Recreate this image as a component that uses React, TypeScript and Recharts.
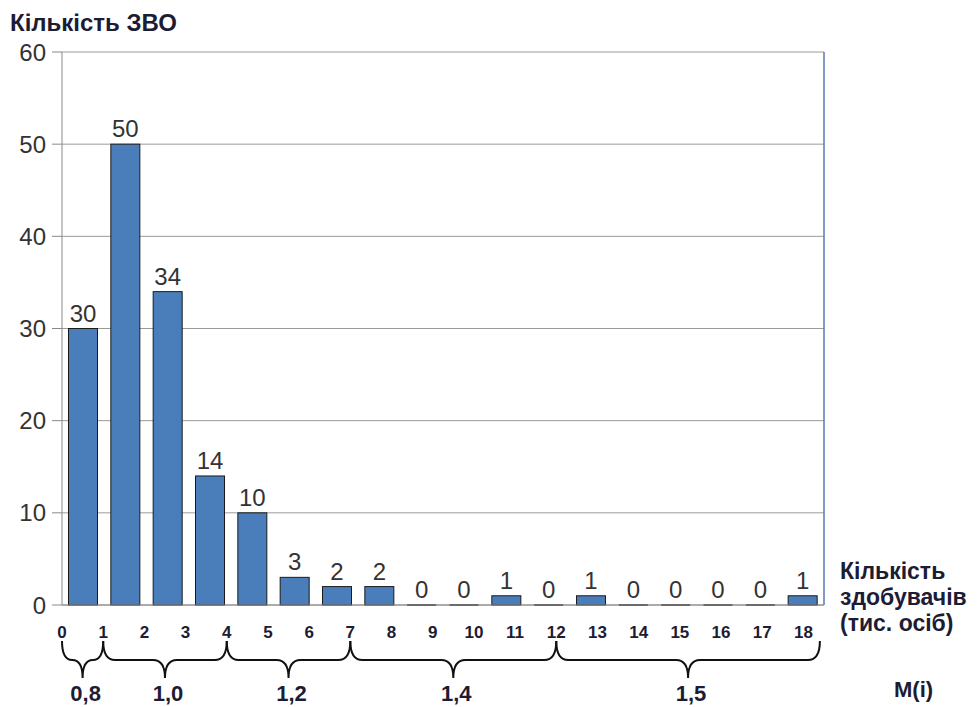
import React from 'react';
import {
  BarChart,
  Bar,
  XAxis,
  YAxis,
  CartesianGrid,
  LabelList,
  ReferenceArea,
  ReferenceLine
} from 'recharts';

// number of institutions per group of applicants
const categories = ['1', '2', '3', '4', '5', '6', '7', '8', '9', '10', '11', '12', '13', '14', '15', '16', '17', '18'];
const counts = [30, 50, 34, 14, 10, 3, 2, 2, 0, 0, 1, 0, 1, 0, 0, 0, 0, 1];
const xTicks = [0, 1, 2, 3, 4, 5, 6, 7, 8, 9, 10, 11, 12, 13, 14, 15, 16, 17, 18];
const yTicks = [0, 10, 20, 30, 40, 50, 60];

// brace groups under the axis: from, to, M(i)
const groupFrom = [0, 1, 4, 7, 12];
const groupTo = [1, 4, 7, 12, 18.4];
const groupLabels = ['0,8', '1,0', '1,2', '1,4', '1,5'];

const data = categories.map((c, i) => ({ name: c, value: counts[i] }));

const FONT = '"Liberation Sans", Arial, sans-serif';
const DARK = '#1c1c34';

// bar with thin line when value is zero
const BarShape = (props: any) => {
  const { x, y, width, height } = props;
  if (!height || height < 0.5) {
    return <line x1={x} x2={x + width} y1={y + (height || 0)} y2={y + (height || 0)} stroke="#222" strokeWidth={1.5} />;
  }
  return <rect x={x} y={y} width={width} height={height} fill="#4a7ebb" stroke="#1a1a1a" strokeWidth={1} />;
};

const XTick = ({ x, y, payload }: any) => (
  <text x={x} y={y + 25} textAnchor="middle" fontFamily={FONT} fontWeight="bold" fontSize={17} fill={DARK}>
    {payload.value}
  </text>
);

const Brace = (label: string) => (props: any) => {
  const { x, y, width, height } = props;
  const x1 = x;
  const x2 = x + width;
  const mid = (x1 + x2) / 2;
  const base = y + height;
  const y0 = base + 36;
  const ym = base + 55;
  const yt = base + 73;
  const q = Math.min(12, width / 4);
  const d = `M${x1},${y0} Q${x1},${ym} ${x1 + q},${ym} L${mid - q},${ym} Q${mid},${ym} ${mid},${yt} ` +
    `Q${mid},${ym} ${mid + q},${ym} L${x2 - q},${ym} Q${x2},${ym} ${x2},${y0}`;
  return (
    <g>
      <path d={d} fill="none" stroke="#111" strokeWidth={2} />
      <text x={mid + 3} y={base + 96} textAnchor="middle" fontFamily={FONT} fontWeight="bold" fontSize={22} fill={DARK}>
        {label}
      </text>
    </g>
  );
};

export default function App() {
  return (
    <div style={{ position: 'absolute', left: 0, top: 0, width: 980, height: 707, background: '#fff', fontFamily: FONT }}>
      <div style={{ position: 'absolute', left: 10, top: 9, fontSize: 24, fontWeight: 'bold', color: DARK }}>
        Кількість ЗВО
      </div>
      <div style={{ position: 'absolute', left: 840, top: 558, fontSize: 23, fontWeight: 'bold', color: DARK, lineHeight: '26px' }}>
        Кількість<br />здобувачів<br />(тис. осіб)
      </div>
      <div style={{ position: 'absolute', left: 894, top: 677, fontSize: 22, fontWeight: 'bold', color: DARK }}>
        M(i)
      </div>
      <BarChart
        width={980}
        height={707}
        data={data}
        margin={{ top: 52, right: 156, bottom: 72, left: 0 }}
        barCategoryGap={6.5}
        style={{ position: 'absolute', left: 0, top: 0 }}
      >
        <CartesianGrid vertical={false} stroke="#9a9a9a" />
        <XAxis xAxisId="cat" dataKey="name" hide height={0} />
        <XAxis
          xAxisId="num"
          type="number"
          dataKey="value"
          domain={[0, 18.5]}
          ticks={xTicks}
          height={30}
          axisLine={{ stroke: '#8a8a8a' }}
          tickLine={false}
          tick={<XTick />}
          allowDataOverflow
        />
        <YAxis
          domain={[0, 60]}
          ticks={yTicks}
          width={62}
          tickSize={10}
          tickMargin={6}
          axisLine={{ stroke: '#8a8a8a' }}
          tickLine={{ stroke: '#8a8a8a' }}
          tick={{ fontSize: 24, fill: '#333', fontFamily: FONT }}
        />
        <ReferenceLine xAxisId="num" x={18.5} stroke="#5a78b0" strokeWidth={1.5} />
        {groupFrom.map((f, i) => (
          <ReferenceArea
            key={i}
            xAxisId="num"
            x1={f}
            x2={groupTo[i]}
            fillOpacity={0}
            shape={Brace(groupLabels[i])}
          />
        ))}
        <Bar xAxisId="cat" dataKey="value" shape={<BarShape />} isAnimationActive={false}>
          <LabelList dataKey="value" position="top" offset={7} fontSize={24} fill="#333" fontFamily={FONT} />
        </Bar>
      </BarChart>
    </div>
  );
}
